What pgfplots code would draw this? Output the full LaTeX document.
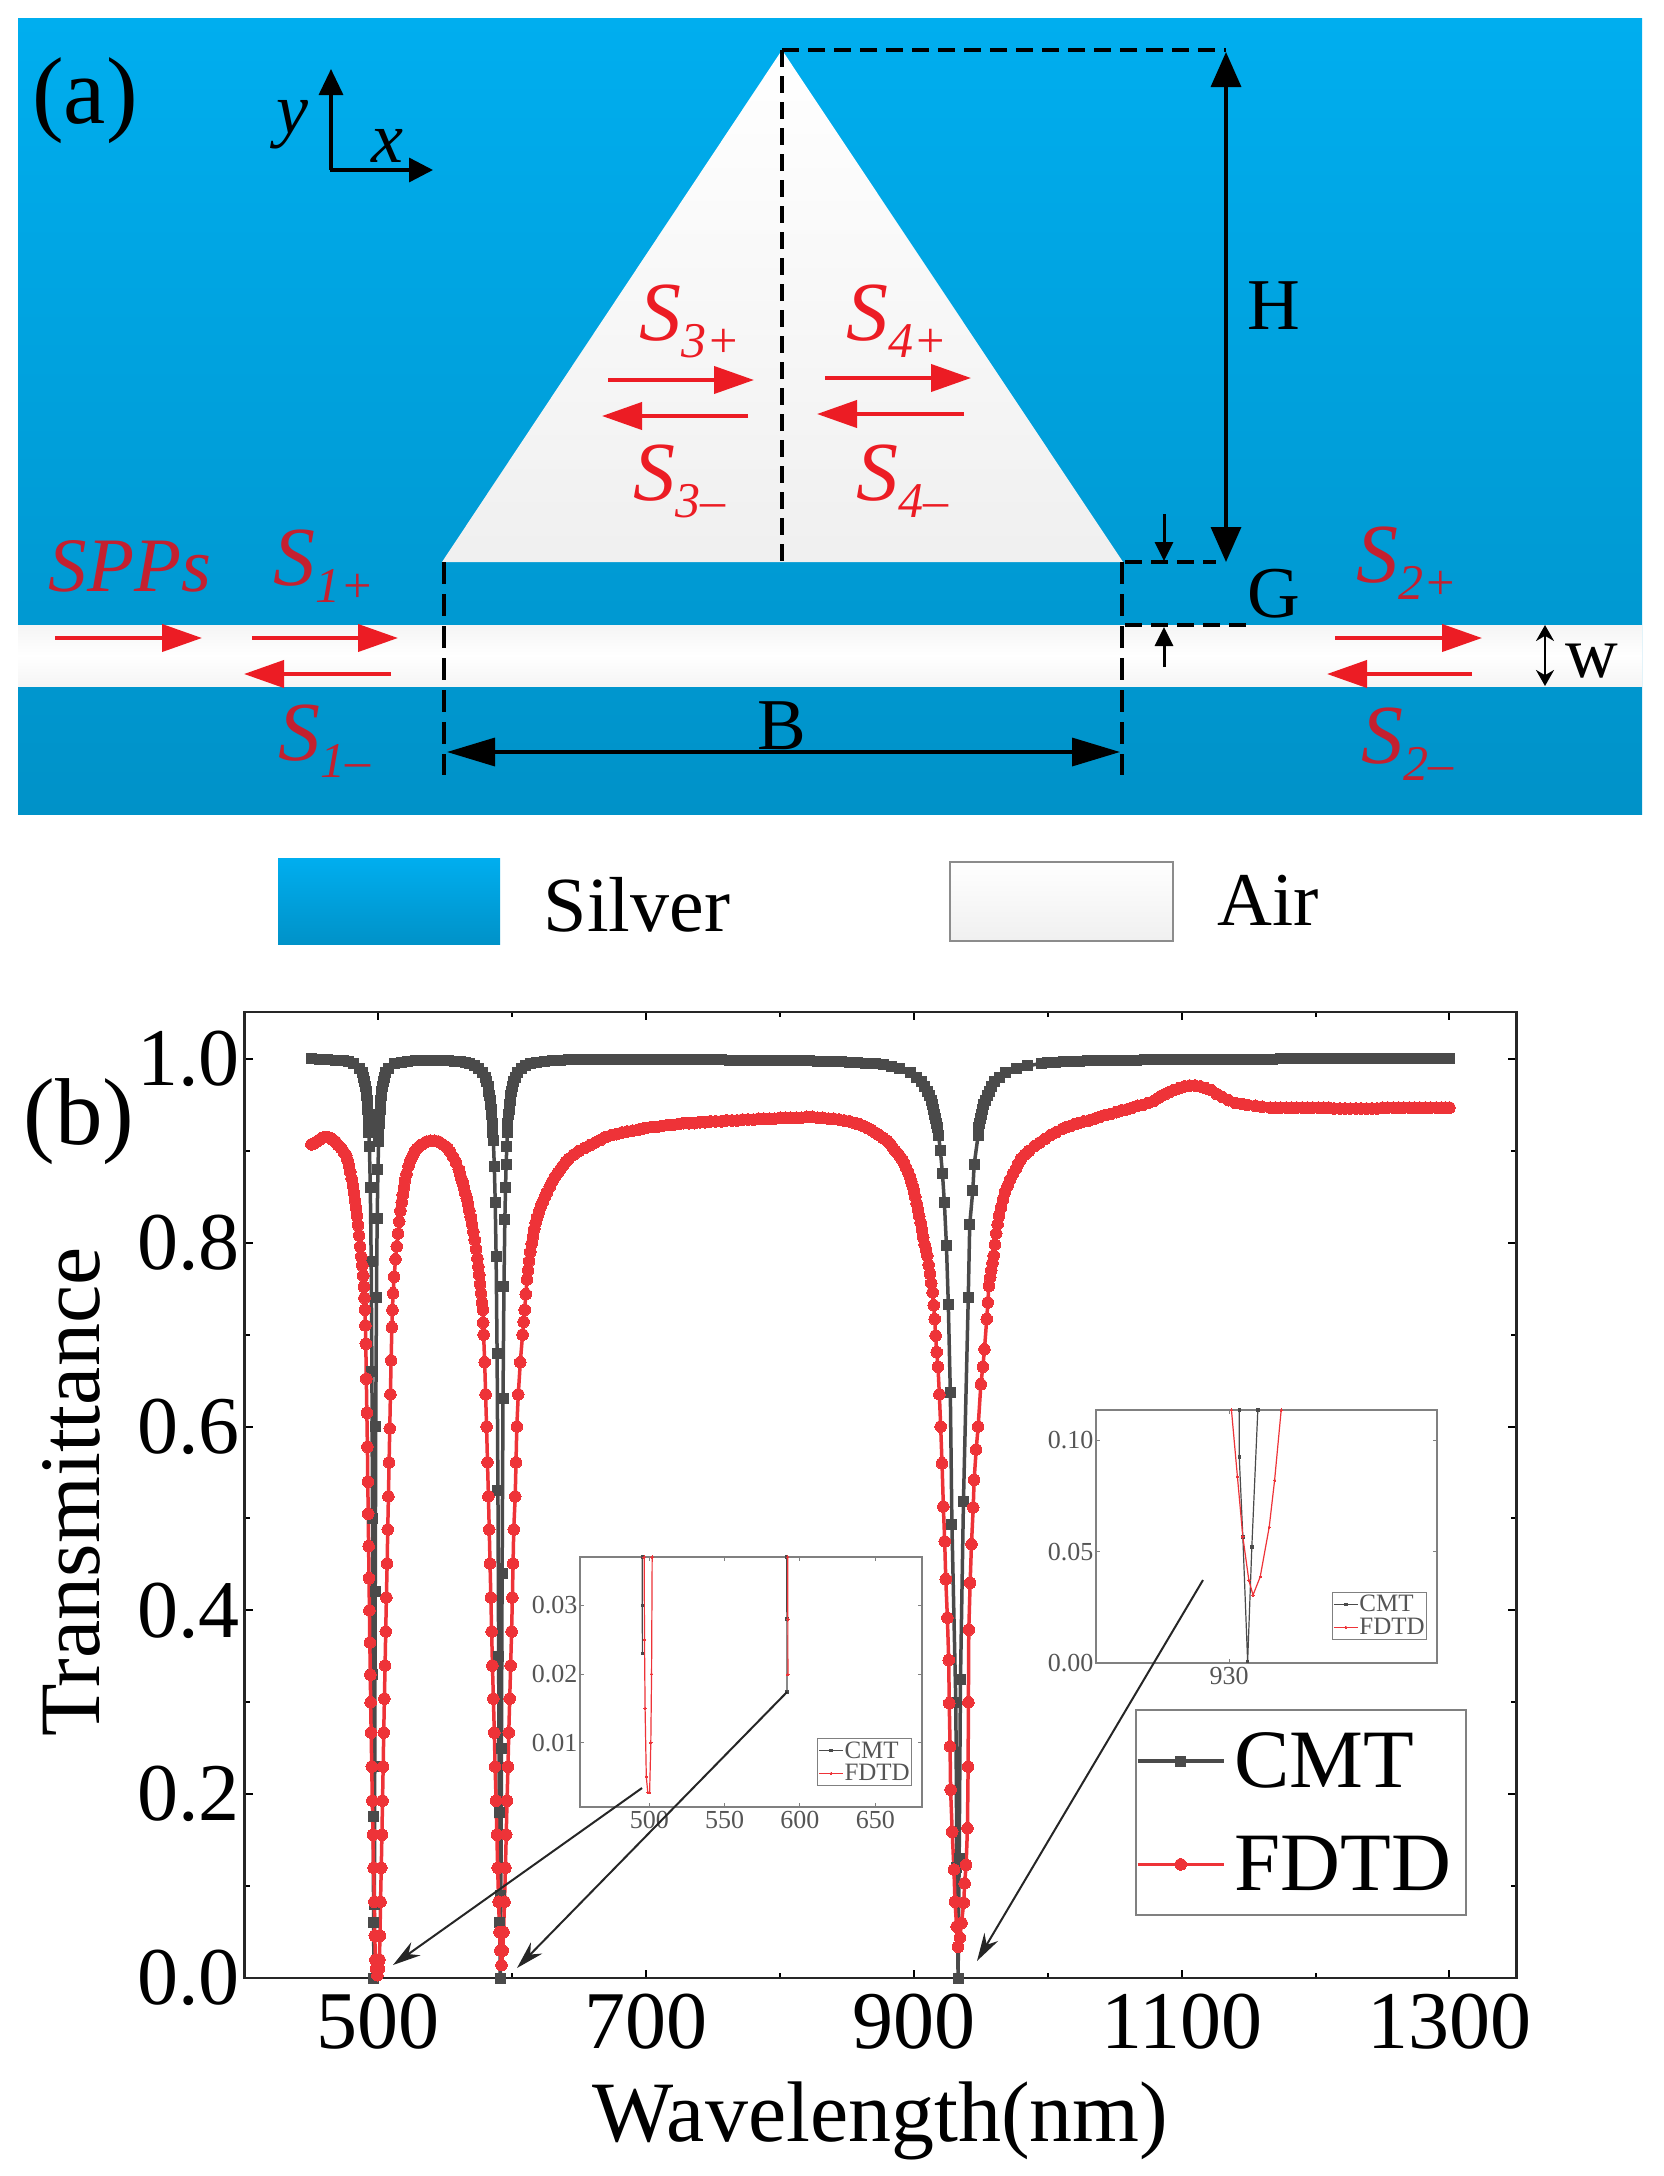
\documentclass[border=0pt]{standalone}
\usepackage{pgfplots}
\pgfplotsset{compat=1.18}
\usepackage{fontspec}
\setmainfont{Liberation Serif}
\usetikzlibrary{arrows.meta}
\newcommand{\fs}[1]{\fontsize{#1}{#1}\selectfont}
\newcommand{\Ssub}[2]{\fs{84}\itshape S\raisebox{-17pt}{\fs{50}\itshape #1#2}}
\definecolor{cmt}{HTML}{4A4A4A}
\definecolor{fdtd}{HTML}{EE3338}
\definecolor{arr}{HTML}{EC1C24}
\definecolor{txtred}{HTML}{C4202F}
\definecolor{silvertop}{HTML}{00AEEF}
\definecolor{silverbot}{HTML}{0092C8}
\definecolor{framegray}{HTML}{808080}
\definecolor{insettxt}{HTML}{555555}
\pgfplotsset{
  inset/.style={
    scale only axis, clip=true,
    axis background/.style={fill=white},
    axis line style={line width=1.6pt, framegray},
    tick style={line width=1pt, framegray},
    major tick length=4pt, minor tick length=0pt,
    tick align=inside,
    tick label style={font=\fs{26}, insettxt},
    /pgf/number format/assume math mode=true,
    xticklabel style={yshift=-1pt},
    yticklabel style={xshift=1pt},
    scaled y ticks=false,
    legend style={draw=framegray, line width=1pt, font=\fs{25}, text=insettxt,
      anchor=north west, inner xsep=1pt, inner ysep=2pt, row sep=3pt,
      nodes={inner xsep=1pt, inner ysep=1pt}},
    legend cell align=left,
    legend image code/.code={
      \draw[#1, mark repeat=2, mark phase=2, line width=1pt] plot coordinates {(0pt,0pt)(12pt,0pt)(24pt,0pt)};
    },
  },
  insetcmt/.style={cmt, line width=1.2pt, mark=square*, mark size=1.2pt, mark options={line width=0pt, fill=cmt, draw=none}},
  insetfdtd/.style={fdtd, line width=1.2pt, mark=*, mark size=1.2pt, mark options={line width=0pt, fill=fdtd, draw=none}},
}
\begin{document}
\begin{tikzpicture}
\path[use as bounding box] (0pt,0pt) rectangle (1664pt,-2176pt);
\begin{scope}[x=1pt, y=-1pt]
% panel (a), pixel coordinates of the picture
\shade[top color=silvertop, bottom color=silverbot] (18,18) rectangle (1642,814);
\shade[top color=white, bottom color=black!6] (782,50) -- (442,562) -- (1123,562) -- cycle;
\shade[top color=black!4, bottom color=black!4, middle color=white] (18,625) rectangle (1642,686);
\draw[black, line width=3.4pt, dash pattern=on 17pt off 9pt] (782,50) -- (782,562);
\draw[black, line width=3.4pt, dash pattern=on 17pt off 9pt] (782,50) -- (1226,50);
\draw[black, line width=3.4pt, dash pattern=on 17pt off 9pt] (1125,562) -- (1216,562);
\draw[black, line width=3.4pt, dash pattern=on 17pt off 9pt] (1125,625) -- (1253,625);
\draw[black, line width=3.2pt, dash pattern=on 22pt off 10pt] (444,562) -- (444,775);
\draw[black, line width=3.2pt, dash pattern=on 22pt off 10pt] (1122,562) -- (1122,775);
\draw[{Triangle[length=35pt,width=30pt]}-{Triangle[length=35pt,width=30pt]}, line width=3.4pt] (1226,52) -- (1226,562);
\draw[{Triangle[length=48pt,width=28pt]}-{Triangle[length=48pt,width=28pt]}, line width=3.4pt] (447,752) -- (1120,752);
\draw[-{Triangle[length=19pt,width=18pt]}, line width=3pt] (1164,514) -- (1164,561);
\draw[-{Triangle[length=19pt,width=18pt]}, line width=3pt] (1164,667) -- (1164,627);
\draw[{Stealth[length=16pt,width=18pt]}-{Stealth[length=16pt,width=18pt]}, line width=2.6pt] (1545,625) -- (1545,686);
\draw[-{Triangle[length=26pt,width=24pt]}, line width=3.4pt] (331,170) -- (331,69);
\draw[-{Triangle[length=24pt,width=24pt]}, line width=3.4pt] (330,170) -- (433,170);
\foreach \xa/\xb/\yy in {608/754/380, 748/602/416, 825/971/378, 964/817/414, 55/202/638, 252/398/638, 391/244/674, 1335/1482/638, 1472/1327/674}
  \draw[arr, -{Triangle[length=40pt,width=27pt]}, line width=4pt] (\xa,\yy) -- (\xb,\yy);
\node[text=arr] at (690,321) {\Ssub{3}{+}};
\node[text=arr] at (897,321) {\Ssub{4}{+}};
\node[text=arr] at (679,481) {\Ssub{3}{–}};
\node[text=arr] at (902,481) {\Ssub{4}{–}};
\node[text=txtred] at (130,566) {\fs{77}\itshape SPPs};
\node[text=txtred] at (324,566) {\Ssub{1}{+}};
\node[text=txtred] at (324,741) {\Ssub{1}{–}};
\node[text=txtred] at (1407,563) {\Ssub{2}{+}};
\node[text=txtred] at (1407,744) {\Ssub{2}{–}};
\node at (85,101) {\fs{95}(a)};
\node at (79,1122) {\fs{95}(b)};
\node at (292,125) {\fs{72}\itshape y};
\node at (387,146) {\fs{72}\itshape x};
\node at (1274,306) {\fs{73}H};
\node at (1274,594) {\fs{73}G};
\node at (782,726) {\fs{73}B};
\node at (1592,661) {\fs{73}w};
\shade[top color=silvertop, bottom color=silverbot] (278,858) rectangle (500,944);
\shade[top color=white, bottom color=black!6] (950,862) rectangle (1173,941);
\draw[black!45, line width=1.5pt] (950,862) rectangle (1173,941);
\node at (637,905) {\fs{78}Silver};
\node at (1268,900) {\fs{76}Air};
\end{scope}

% panel (b)
\begin{axis}[
  at={(244.5pt,-1978pt)}, anchor=south west,
  scale only axis, width=1272pt, height=966pt,
  xmin=400, xmax=1350, ymin=0, ymax=1.051,
  clip=false,
  xtick={500,700,900,1100,1300}, minor x tick num=1,
  ytick={0,0.2,0.4,0.6,0.8,1.0}, minor y tick num=1,
  tick align=inside, major tick length=8pt, minor tick length=5pt,
  tick style={line width=2pt, black},
  axis line style={line width=2.6pt, black!85},
  /pgf/number format/assume math mode=true,
  tick label style={font=\fs{82}},
  xticklabel style={/pgf/number format/1000 sep={}, yshift=-12pt},
  yticklabel style={/pgf/number format/fixed, /pgf/number format/zerofill, /pgf/number format/precision=1, xshift=-1pt},
  xlabel={Wavelength(nm)}, ylabel={Transmittance},
  every axis x label/.style={at={(axis description cs:0.5,-0.148)}, anchor=center, font=\fs{86}},
  every axis y label/.style={at={(axis description cs:-0.136,0.503)}, anchor=center, rotate=90, font=\fs{86}},
  legend cell align=left,
  legend style={at={(axis description cs:0.7001,0.2785)}, anchor=north west, draw=framegray, line width=2pt,
    font=\fs{83}, inner xsep=0pt, inner ysep=21pt, row sep=43pt, column sep=5pt, nodes={inner xsep=4pt, inner ysep=2pt}},
  legend image code/.code={
    \draw[#1, mark repeat=2, mark phase=2] plot coordinates {(0pt,0pt)(43pt,0pt)(86pt,0pt)};
  },
]
\addplot[cmt, line width=3.5pt, line join=round, mark=square*, mark size=5pt, mark options={line width=0pt, fill=cmt, draw=none}] coordinates {
(450,1)(456,.999)(462,.999)(468,.998)(474,.998)(478,.997)(481.2,.995)
(485.75,.99)(487.8,.985)(489,.98)(489.84,.975)(490.44,.97)(490.92,.965)(491.31,.96)(491.64,.955)(491.9,.95)(492.13,.945)(492.34,.94)(492.71,.93)(492.97,.92)(493.3,.905)(493.97,.86)(494.63,.78)(495.17,.66)(495.6,.5)(495.93,.33)(496.19,.176)(496.42,.06)(496.7,0)
(497.02,.08)(497.3,.23)(497.64,.42)(498.04,.6)(498.56,.74)(499.1,.826)(499.68,.88)(500.2,.91)(500.43,.92)(500.69,.93)(501.06,.94)(501.27,.945)(501.5,.95)(501.76,.955)(502.09,.96)(502.48,.965)(502.96,.97)(503.56,.975)(504.4,.98)(505.6,.985)(507.65,.99)
(512.2,.995)(517,.996)(522,.997)(528,.998)(534,.998)(540,.998)(546,.998)(552,.998)(557,.997)(561,.997)(565,.996)(568.4,.995)(572,.993)
(575.08,.99)(578.04,.985)(579.8,.98)(581.02,.975)(581.9,.97)(582.6,.965)(583.16,.96)(583.64,.955)(584.02,.95)(584.36,.945)(584.66,.94)(585.19,.93)(585.58,.92)(585.88,.911)(586.6,.883)(587.27,.844)(587.94,.785)(588.67,.68)(589.3,.53)(589.83,.35)(590.25,.18)(590.6,.06)(591,0)
(591.5,.09)(591.92,.25)(592.42,.44)(593.09,.63)(593.79,.752)(594.47,.825)(594.97,.86)(595.44,.885)(595.94,.905)(596.42,.92)(596.81,.93)(597.34,.94)(597.64,.945)(597.98,.95)(598.36,.955)(598.84,.96)(599.4,.965)(600.1,.97)(600.98,.975)(602.2,.98)(603.96,.985)(606.92,.99)
(610,.993)(613.6,.995)(618,.996)(624,.997)(630,.998)(636,.998)(642,.999)(648,.999)(654,.999)(660,.999)(666,.999)(672,.999)(678,.999)(684,.999)(690,.999)(696,.999)(702,.999)(708,.999)(714,.999)(720,.999)(726,.999)(732,.999)(738,.999)(744,.999)(750,.999)(756,.999)(762,.998)(768,.998)(774,.998)(780,.998)(786,.998)(792,.998)(798,.998)(804,.998)(810,.998)(816,.998)(822,.998)(828,.9977)(834,.9975)(840,.997)(846,.9968)(852,.9965)(858,.996)(864,.9955)(871,.995)(877,.9935)(883,.992)
(889.2,.99)(897.4,.985)(902.2,.98)(905.5,.975)(908,.97)(909.9,.965)(911.4,.96)(912.8,.955)(913.8,.95)(914.7,.945)(915.6,.94)(916.3,.935)(917,.93)(917.6,.925)(918.4,.917)(919.8,.9)(921.34,.875)(922.75,.844)(924.3,.797)(925.7,.733)(927.2,.637)(928.4,.493)(931.3,.3)(932.1,.12)(933,0)
(933.8,.13)(934.8,.325)(937,.518)(940.6,.74)(941.7,.82)(944,.857)(945,.885)(948,.917)(948.4,.925)(949,.93)(949.7,.935)(950.4,.94)(951.3,.945)(952.2,.95)(953.2,.955)(954.6,.96)(956.1,.965)(958,.97)(960.5,.975)(963.8,.98)(968.6,.985)(976.8,.99)
(985,.9925)(995,.995)(1000,.9957)(1006,.9964)(1012,.997)(1018,.9973)(1024,.9976)(1030,.9979)(1036,.998)(1042,.9982)(1048,.9984)(1054,.9985)(1060,.9986)(1066,.9987)(1072,.9988)(1078,.9989)(1084,.999)(1090,.999)(1096,.999)(1102,.999)(1108,.9995)(1114,.9995)(1120,.9995)(1126,.9995)(1132,.9995)(1138,.9995)(1144,.9995)(1150,.9995)(1156,.9995)(1162,.9995)(1168,.9995)(1174,1)(1180,1)(1186,1)(1192,1)(1198,1)(1204,1)(1210,1)(1216,1)(1222,1)(1228,1)(1234,1)(1240,1)(1246,1)(1252,1)(1258,1)(1264,1)(1270,1)(1276,1)(1282,1)(1288,1)(1294,1)(1300,1)
};
\addlegendentry{CMT}
\addplot[fdtd, line width=3.5pt, line join=round, mark=*, mark size=5.8pt, mark options={line width=0pt, fill=fdtd, draw=none}] coordinates {
(450,.907)(452,.908)(454,.91)(456,.912)(458,.914)(460,.915)(462,.915)(464,.914)(466,.912)(468,.91)(470,.906)(472,.903)(474,.899)(476,.895)(477,.89)(478,.884)(479,.877)(480,.87)(481,.862)(481.8,.854)(482.5,.846)(483.2,.838)(484,.829)(484.8,.819)(485.6,.808)(486.4,.796)(487.2,.785)(488,.775)(488.7,.764)(489.2,.752)(489.6,.74)(490,.727)(490.3,.71)(490.6,.69)(491,.652)(491.4,.615)(491.8,.578)(492.1,.54)(492.4,.505)(492.7,.47)(493,.435)(493.3,.4)(493.6,.365)(494,.33)(494.2,.3)(494.6,.267)(495.03,.23)(495.5,.193)(495.95,.156)(496.44,.12)(497,.083)(497.3,.046)(497.8,.02)(498.3,.01)(499.3,.003)
(500.3,.01)(500.8,.02)(501.2,.046)(501.6,.083)(502.16,.12)(502.65,.156)(503.1,.193)(503.57,.23)(504,.267)(504.5,.304)(505,.34)(505.47,.377)(506,.414)(506.55,.451)(507,.488)(507.5,.524)(508,.561)(508.5,.598)(509,.635)(509.5,.672)(510.1,.708)(510.5,.727)(511,.745)(511.8,.763)(512.8,.782)(513.7,.796)(514.7,.81)(515.6,.823)(516.5,.835)(517.4,.844)(518.2,.852)(519,.86)(520,.868)(521,.875)(522.5,.883)(524,.89)(525.7,.895)(527.5,.9)(528.7,.902)(530,.904)(531.5,.906)(533,.907)(536,.91)(539,.911)(542,.911)(545,.91)(548,.907)(551,.904)(553.6,.899)(556,.893)(558,.887)(560,.88)(561,.875)(562,.87)(563,.865)(564,.86)(565,.854)(566,.848)(567,.842)(568,.835)(569,.828)(570,.82)(571,.812)(572,.803)(573,.793)(574,.783)(574.7,.774)(575.4,.765)(576,.755)(576.7,.745)(577.4,.735)(578,.727)(578.3,.713)
(578.6,.7)(579.4,.67)(580.1,.635)(580.8,.6)(581.5,.561)(582.2,.524)(582.8,.488)(583.4,.451)(584,.414)(584.6,.377)(585.2,.34)(585.9,.304)(586.6,.267)(587.2,.23)(587.9,.193)(588.5,.156)(589.1,.12)(589.8,.083)(590.5,.05)(591.1,.03)(592,.014)
(592.9,.03)(593.5,.05)(594.2,.083)(594.9,.12)(595.5,.156)(596.1,.193)(596.8,.23)(597.4,.267)(598.1,.304)(598.8,.34)(599.5,.377)(600.1,.414)(600.6,.451)(601.1,.488)(602.2,.524)(602.8,.561)(603.4,.6)(604.5,.635)(606,.67)(607.7,.7)(608.5,.714)(609.3,.727)(610.1,.744)(611,.76)(611.8,.77)(612.6,.78)(613.5,.79)(614.5,.799)(615.5,.807)(616.5,.815)(617.5,.822)(618.7,.828)(620,.834)(621.5,.84)(623,.845)(624.5,.85)(626,.855)(628,.861)(630,.867)(632,.872)(634,.876)(636,.88)(638,.884)(640,.888)(642,.891)(646,.896)(650,.9)(654,.903)(658,.906)(662,.909)(666,.912)(670,.915)(674,.917)(678,.918)(682,.92)(686,.921)(690,.922)(694,.923)(697,.924)(700,.925)(704,.926)(708,.926)(712,.927)(716,.928)(720,.928)(724,.929)(728,.93)(732,.93)(736,.93)(740,.931)(744,.931)(748,.932)(752,.932)(756,.932)(760,.933)(764,.933)(768,.933)(772,.934)(776,.934)(780,.934)(784,.935)(788,.935)(792,.935)(796,.935)(800,.936)(804,.936)(808,.936)(812,.936)(816,.936)(820,.937)(824,.937)(828,.936)(832,.936)(836,.935)(840,.935)(844,.934)(848,.933)(852,.932)(856,.93)(859,.929)(862,.927)(865,.925)(868,.923)(871,.92)(874,.917)(877,.914)(880,.911)(882,.908)(884,.904)(886,.9)(888,.897)(889.5,.894)(891,.891)(892.5,.887)(894,.882)(895.5,.877)(897,.872)(898,.867)(899,.862)(900,.856)(901,.85)(902,.843)(903,.836)(904,.829)(905,.822)(906,.814)(907,.806)(908,.798)(909,.792)(910,.786)(911,.776)(912,.766)(913,.756)(914,.746)(914.8,.732)(915.5,.717)(916.2,.699)(917,.681)(918,.665)
(919,.635)(920,.6)(921,.56)(922,.513)(923,.475)(923.8,.434)(925,.392)(926,.346)(926.4,.299)(927,.252)(927.4,.205)(928.6,.159)(929.9,.118)(930.7,.083)(931.9,.056)(933,.034)
(934.3,.044)(935.6,.06)(937.2,.082)(937.9,.103)(939,.123)(940,.163)(940.5,.23)(940.7,.3)(941,.379)(942,.43)(943,.472)(944.3,.512)(945,.542)(946.5,.575)(948,.6)(950,.646)(951.5,.665)(952.7,.684)(954.4,.717)(955.2,.735)(956,.753)(957,.762)(957.8,.77)(958.7,.778)(959.6,.786)(960.5,.798)(961.5,.81)(962.5,.82)(963.6,.829)(965,.838)(966.5,.847)(968,.855)(970,.862)(972,.869)(974,.875)(976,.88)(978,.886)(980,.891)(983,.896)(986,.9)(990,.905)(994,.909)(998,.913)(1002,.917)(1006,.92)(1011,.924)(1014,.926)(1017,.927)(1020,.929)(1023,.93)(1027,.932)(1031,.933)(1035,.935)(1039,.937)(1043,.939)(1047,.94)(1051,.942)(1055,.944)(1059,.945)(1063,.947)(1067,.949)(1071,.95)(1075,.952)(1079,.954)(1082,.957)(1085,.96)(1088,.962)(1091,.964)(1094,.966)(1098,.968)(1102,.97)(1106,.971)(1110,.971)(1114,.97)(1118,.968)(1122,.966)(1126,.962)(1130,.959)(1135,.955)(1140,.952)(1145,.951)(1149,.95)(1155,.949)(1160,.948)(1166,.947)(1170,.947)(1174,.947)(1178,.947)(1182,.947)(1186,.947)(1190,.947)(1194,.947)(1198,.947)(1202,.947)(1206,.947)(1210,.947)(1214,.946)(1218,.946)(1222,.946)(1226,.946)(1230,.946)(1234,.946)(1238,.946)(1242,.946)(1246,.946)(1250,.947)(1254,.947)(1258,.947)(1262,.947)(1266,.947)(1270,.947)(1274,.947)(1278,.947)(1282,.947)(1286,.947)(1290,.947)(1294,.947)(1297,.947)(1300,.947)
};
\addlegendentry{FDTD\hspace*{11pt}}
\end{axis}

% inset near 500 and 600 nm
\begin{axis}[
  inset,
  at={(580pt,-1807pt)}, anchor=south west,
  width=342pt, height=250pt,
  xmin=454, xmax=681, ymin=0.0007, ymax=0.037,
  xtick={500,550,600,650},
  ytick={0.01,0.02,0.03},
  yticklabel style={/pgf/number format/fixed, /pgf/number format/zerofill, /pgf/number format/precision=2},
  legend style={at={(axis description cs:0.693,0.276)}},
]
\addplot[insetcmt] coordinates {(495.3,.037)(495.35,.03)(495.4,.023)};
\addlegendentry{CMT}
\addplot[insetfdtd] coordinates {(496.6,.037)(496.8,.025)(497.2,.015)(498,.0051)(499,.0028)(500.2,.0028)(501,.01)(501.5,.02)(501.9,.037)};
\addlegendentry{FDTD}
\addplot[insetcmt] coordinates {(591.2,.037)(591.3,.028)(591.4,.0174)};
\addplot[insetfdtd] coordinates {(591.9,.037)(591.95,.028)(592,.0199)};
\end{axis}

% inset near 930 nm
\begin{axis}[
  inset,
  at={(1096pt,-1663pt)}, anchor=south west,
  width=341pt, height=253pt,
  xmin=907.8, xmax=964.7, ymin=0, ymax=0.1135,
  xtick={930},
  ytick={0,0.05,0.10},
  yticklabel style={/pgf/number format/fixed, /pgf/number format/zerofill, /pgf/number format/precision=2},
  legend style={at={(axis description cs:0.692,0.281)}},
]
\addplot[insetcmt] coordinates {(931.7,.1135)(931.7,.0925)(932.3,.0566)(933.1,.0006)(933.8,.052)(934.8,.1135)};
\addlegendentry{CMT}
\addplot[insetfdtd] coordinates {(930.4,.1135)(931.4,.0835)(932.3,.0566)(933.3,.0372)(934,.0305)(935.2,.0387)(936.7,.061)(937.6,.082)(938.7,.1135)};
\addlegendentry{FDTD}
\end{axis}

% arrows from the insets down to the dips
\draw[black!85, line width=2pt, -{Stealth[length=28pt,width=16pt]}] (642pt,-1788pt) -- (393pt,-1965pt);
\draw[black!85, line width=2pt, -{Stealth[length=28pt,width=16pt]}] (787pt,-1692pt) -- (517pt,-1968pt);
\draw[black!85, line width=2pt, -{Stealth[length=28pt,width=16pt]}] (1203pt,-1580pt) -- (977pt,-1961pt);
\end{tikzpicture}
\end{document}
